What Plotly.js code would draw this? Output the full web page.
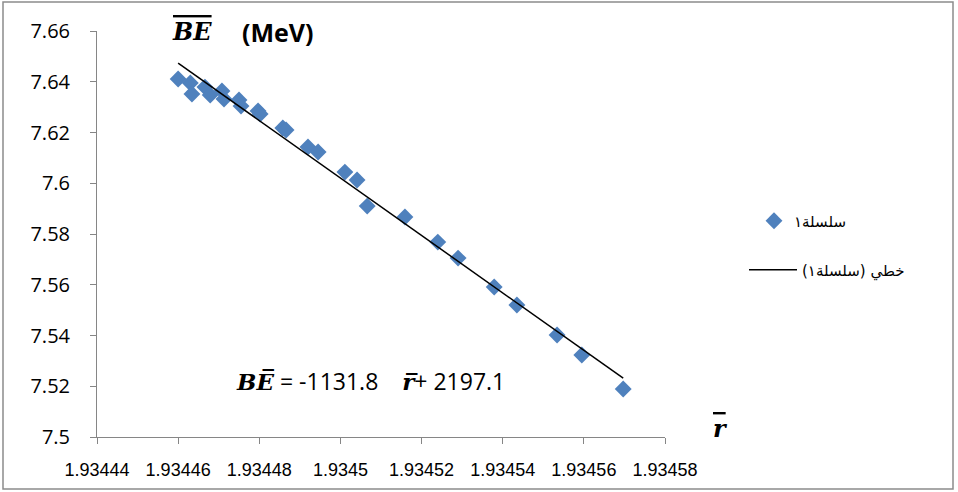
<!DOCTYPE html>
<html>
<head>
<meta charset="utf-8">
<script src="https://cdn.plot.ly/plotly-3.0.1.min.js"></script>
<style>
  html, body { margin: 0; padding: 0; background: #ffffff; }
  #chart { width: 958px; height: 492px; }
</style>
</head>
<body>
<div id="chart"></div>
<script>
// Mean radius r̅ and mean binding energy B̅E̅ (MeV) per point
const rBar = [
  1.9344600, 1.9344630, 1.9344634, 1.9344666, 1.9344679, 1.9344708,
  1.9344713, 1.9344750, 1.9344755, 1.9344797, 1.9344802, 1.9344858,
  1.9344866, 1.9344920, 1.9344945, 1.9345011, 1.9345041, 1.9345066,
  1.9345159, 1.9345240, 1.9345290, 1.9345379, 1.9345435, 1.9345534,
  1.9345595, 1.9345697
];
const beBar = [
  7.6411, 7.6395, 7.6352, 7.6379, 7.6348, 7.6364,
  7.6332, 7.6328, 7.6304, 7.6285, 7.6273, 7.6218,
  7.6210, 7.6143, 7.6123, 7.6044, 7.6013, 7.5910,
  7.5867, 7.5768, 7.5705, 7.5591, 7.5520, 7.5402,
  7.5323, 7.5189
];

// Linear trendline: slope as printed in the equation
const trendSlope = -1131.8;
const trendIntercept = 2197.1;

const xTickVals = [1.93444, 1.93446, 1.93448, 1.93450, 1.93452, 1.93454, 1.93456, 1.93458];
const xTickText = ['1.93444', '1.93446', '1.93448', '1.9345', '1.93452', '1.93454', '1.93456', '1.93458'];
const yTickVals = [7.50, 7.52, 7.54, 7.56, 7.58, 7.60, 7.62, 7.64, 7.66];
const yTickText = ['7.5', '7.52', '7.54', '7.56', '7.58', '7.6', '7.62', '7.64', '7.66'];

const seriesName = 'سلسلة١';
const trendName = 'خطي (سلسلة١)';

// Least-squares offset for the printed slope (the printed intercept is rounded)
const n = rBar.length;
const meanX = rBar.reduce((a, b) => a + b, 0) / n;
const meanY = beBar.reduce((a, b) => a + b, 0) / n;
const fitIntercept = meanY - trendSlope * meanX;
const xMin = Math.min(...rBar), xMax = Math.max(...rBar);
const trendX = [xMin, xMax];
const trendY = trendX.map(x => fitIntercept + trendSlope * x);

const W = 958, H = 492;
const M = { l: 97, r: 293, t: 31, b: 55 };
const pw = W - M.l - M.r, ph = H - M.t - M.b;
const px = x => (x - M.l) / pw;
const py = y => (H - M.b - y) / ph;

const axisGrey = '#868686';
const serif = 'DejaVu Serif, serif';
const sans = 'Open Sans, Noto Sans, sans-serif';

const data = [
  {
    type: 'scatter', mode: 'markers', name: seriesName,
    x: rBar, y: beBar,
    marker: { symbol: 'diamond', size: 13, color: '#4f81bd', line: { width: 0 } },
    legend: 'legend'
  },
  {
    type: 'scatter', mode: 'lines', name: trendName,
    x: trendX, y: trendY,
    line: { color: '#000000', width: 1.5 },
    legend: 'legend2'
  }
];

const legendFont = { family: 'DejaVu Sans, sans-serif', size: 15, color: '#000000' };

const layout = {
  width: W, height: H,
  margin: M,
  paper_bgcolor: '#ffffff', plot_bgcolor: '#ffffff',
  showlegend: true,
  legend: { x: px(754), y: py(221), xanchor: 'left', yanchor: 'middle', font: legendFont, bgcolor: 'rgba(0,0,0,0)' },
  legend2: { x: px(744), y: py(270), xanchor: 'left', yanchor: 'middle', font: legendFont, bgcolor: 'rgba(0,0,0,0)', itemwidth: 48 },
  xaxis: {
    range: [1.93444, 1.93458],
    tickmode: 'array', tickvals: xTickVals, ticktext: xTickText,
    showgrid: false, zeroline: false,
    showline: true, linecolor: axisGrey, linewidth: 1,
    ticks: 'outside', ticklen: 6, tickcolor: axisGrey, tickwidth: 1,
    ticklabelstandoff: 10,
    tickfont: { family: 'Liberation Sans Narrow, Arial Narrow, sans-serif', size: 18, color: '#000000' }
  },
  yaxis: {
    range: [7.5, 7.66],
    tickmode: 'array', tickvals: yTickVals, ticktext: yTickText,
    showgrid: false, zeroline: false,
    showline: true, linecolor: axisGrey, linewidth: 1,
    ticks: 'outside', ticklen: 6, tickcolor: axisGrey, tickwidth: 1,
    ticklabelstandoff: 16,
    tickfont: { family: sans, size: 20, color: '#000000' }
  },
  shapes: [
    // outer chart frame
    { type: 'rect', xref: 'paper', yref: 'paper',
      x0: px(3), x1: px(953), y0: py(489), y1: py(2),
      line: { color: '#8c8c8c', width: 1.5 }, fillcolor: 'rgba(0,0,0,0)', layer: 'below' }
  ],
  annotations: [
    { xref: 'paper', yref: 'paper', x: px(192), y: py(31), xanchor: 'center', yanchor: 'middle',
      text: '<span style="text-decoration:overline"><b><i>BE</i></b></span>', showarrow: false,
      font: { family: serif, size: 24, color: '#000000' } },
    { xref: 'paper', yref: 'paper', x: px(278), y: py(32), xanchor: 'center', yanchor: 'middle',
      text: '<b>(MeV)</b>', showarrow: false,
      font: { family: sans, size: 25, color: '#000000' } },
    { xref: 'paper', yref: 'paper', x: px(234), y: py(381), xanchor: 'left', yanchor: 'middle',
      text: '<span style="font-family:DejaVu Serif"><b><i>BE\u0305</i></b></span> = -1131.8\u00a0\u00a0\u00a0\u00a0<span style="font-family:DejaVu Serif"><b><i>r\u0305</i></b></span>+ 2197.1',
      showarrow: false,
      font: { family: sans, size: 23, color: '#000000' } },
    { xref: 'paper', yref: 'paper', x: px(720), y: py(428), xanchor: 'center', yanchor: 'middle',
      text: '<span style="text-decoration:overline"><b><i>r</i></b></span>', showarrow: false,
      font: { family: serif, size: 24, color: '#000000' } }
  ]
};

Plotly.newPlot('chart', data, layout, { displayModeBar: false, staticPlot: true });
</script>
</body>
</html>
